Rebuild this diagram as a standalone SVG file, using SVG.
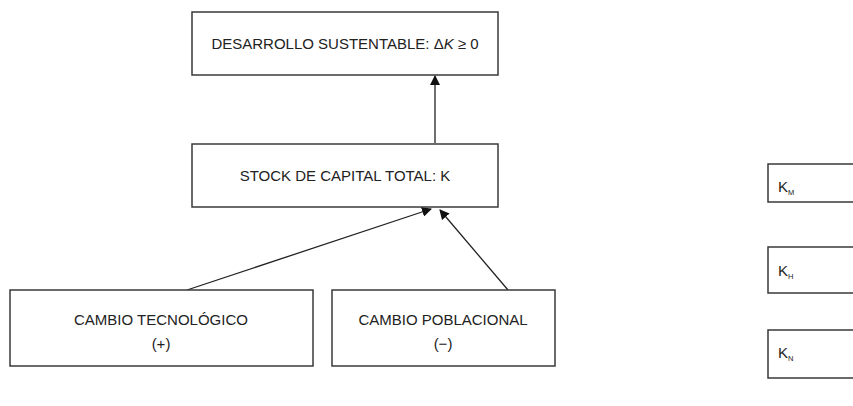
<svg xmlns="http://www.w3.org/2000/svg" width="853" height="406" viewBox="0 0 853 406">
<style>
.box{fill:#fff;stroke:#3a3a3a;stroke-width:1.5}
.t{font-family:"Liberation Sans",Arial,sans-serif;font-size:15px;fill:#222;text-anchor:middle}
.ts{font-family:"Liberation Sans",Arial,sans-serif;font-size:15px;fill:#222}
.s{font-size:7.5px}
.c{stroke:#222;stroke-width:1.3;fill:none;marker-end:url(#ah)}
</style>
<defs>
<marker id="ah" markerWidth="10" markerHeight="10" refX="9" refY="5" orient="auto" markerUnits="userSpaceOnUse" viewBox="0 0 10 10">
<path d="M0,0 L10,5 L0,10 z" fill="#111"/>
</marker>
</defs>
<rect width="853" height="406" fill="#fff"/>
<g id="connectors">
<line class="c" x1="435" y1="143" x2="435" y2="76"/>
<line class="c" x1="187" y1="290" x2="431" y2="209"/>
<line class="c" x1="508" y1="290" x2="440" y2="210"/>
</g>
<g id="desarrollo">
<rect class="box" x="192" y="12" width="306" height="63"/>
<text class="t" x="345" y="49">DESARROLLO SUSTENTABLE: Δ<tspan font-style="italic">K</tspan> ≥ 0</text>
</g>
<g id="stock">
<rect class="box" x="192" y="144" width="306" height="63"/>
<text class="t" x="345" y="181">STOCK DE CAPITAL TOTAL: K</text>
</g>
<g id="tecnologico">
<rect class="box" x="10" y="290" width="303" height="76"/>
<text class="t" x="161" y="325">CAMBIO TECNOLÓGICO</text>
<text class="t" x="161" y="349">(+)</text>
</g>
<g id="poblacional">
<rect class="box" x="332" y="290" width="223" height="76"/>
<text class="t" x="443" y="325">CAMBIO POBLACIONAL</text>
<text class="t" x="443" y="349">(−)</text>
</g>
<g id="km">
<path class="box" d="M854,164 H768 V202 H854"/>
<text class="ts" x="778" y="192">K<tspan class="s" dy="3">M</tspan></text>
</g>
<g id="kh">
<path class="box" d="M854,247 H768 V293 H854"/>
<text class="ts" x="778" y="276">K<tspan class="s" dy="3">H</tspan></text>
</g>
<g id="kn">
<path class="box" d="M854,330 H768 V378 H854"/>
<text class="ts" x="778" y="358">K<tspan class="s" dy="3">N</tspan></text>
</g>
</svg>
